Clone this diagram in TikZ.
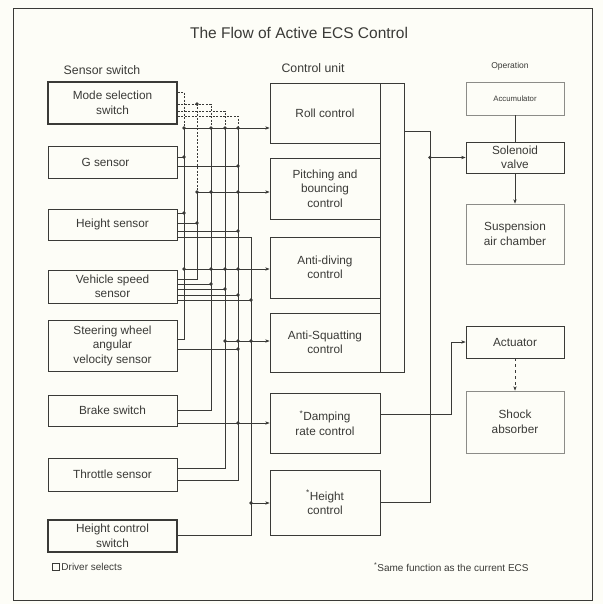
\documentclass[tikz,border=0pt]{standalone}
\usepackage{fontspec}
\setmainfont{Liberation Sans}
\usetikzlibrary{positioning, arrows.meta}
\definecolor{ecsink}{RGB}{58, 58, 55}
\definecolor{ecsfaint}{RGB}{140, 140, 136}
\definecolor{ecspaper}{RGB}{253, 253, 247}
\tikzset{
    ecsbox/.style={draw=ecsink, line width=0.7pt, align=center, text=ecsink, font=\fontsize{11.8}{14.5}\selectfont},
    sensornode/.style={ecsbox, minimum width=129pt},
    selnode/.style={sensornode, line width=1.5pt},
    ctrlnode/.style={ecsbox, minimum width=110pt},
    opnode/.style={ecsbox, minimum width=98pt},
    faintnode/.style={opnode, draw=ecsfaint},
    wire/.style={draw=ecsink, line width=0.65pt},
    selwire/.style={wire, dash pattern=on 2pt off 1.5pt},
    feed/.style={wire, -{Stealth[length=4.5pt, width=3.4pt]}},
    jdot/.style={circle, fill=ecsink, inner sep=0pt, minimum size=3.8pt}
}

\begin{document}
\begin{tikzpicture}[x=1pt, y=-1pt]
    \useasboundingbox (0,0) rectangle (603,604);
    \fill[ecspaper] (0,0) rectangle (603,604);
    \draw[ecsink, line width=0.9pt] (13,8) rectangle (592,600);

    % headings
    \node[text=ecsink, font=\fontsize{15.5}{18}\selectfont] (title) at (299,33) {The Flow of Active ECS Control};
    \node[text=ecsink, font=\fontsize{12.3}{14}\selectfont] (hsens) at (102,70) {Sensor switch};
    \node[text=ecsink, font=\fontsize{12.3}{14}\selectfont] (hctrl) at (313,68) {Control unit};
    \node[text=ecsink, font=\fontsize{8.5}{10}\selectfont] (hop) at (510,66) {Operation};

    % sensors and switches
    \node[selnode, minimum height=42pt] (ms) at (112.5,103) {Mode selection\\switch};
    \node[sensornode, minimum height=32pt] (gs) at (112.5,162) {G sensor\hspace*{14pt}};
    \node[sensornode, minimum height=31pt] (hs) at (112.5,224.5) {Height sensor};
    \node[sensornode, minimum height=33pt] (vs) at (112.5,286.5) {Vehicle speed\\sensor};
    \node[sensornode, minimum height=51pt] (sw) at (112.5,345.5) {Steering wheel\\angular\\velocity sensor};
    \node[sensornode, minimum height=31pt] (bs) at (112.5,410.5) {Brake switch};
    \node[sensornode, minimum height=33pt] (ts) at (112.5,474.5) {Throttle sensor};
    \node[selnode, minimum height=32pt] (hcs) at (112.5,536) {Height control\\switch};

    % control unit
    \node[ctrlnode, minimum height=60pt] (roll) at (325,113) {Roll control};
    \node[ctrlnode, minimum height=61pt] (pb) at (325,188.5) {Pitching and\\bouncing\\control};
    \node[ctrlnode, minimum height=61pt] (adv) at (325,267.5) {Anti-diving\\control};
    \node[ctrlnode, minimum height=59pt] (asq) at (325,342.5) {Anti-Squatting\\control};
    \node[ctrlnode, minimum height=60pt] (drc) at (325,423) {\textsuperscript{*}Damping\\rate control};
    \node[ctrlnode, minimum height=65pt] (hct) at (325,502.5) {\textsuperscript{*}Height\\control};
    \node[ecsbox, minimum width=24pt, minimum height=289pt] (cuframe) at (392,227.5) {};

    % operation
    \node[faintnode, minimum height=33pt, font=\fontsize{7.8}{9}\selectfont] (acc) at (515,98.5) {Accumulator};
    \node[opnode, minimum height=31pt] (sv) at (515,157.5) {Solenoid\\valve};
    \node[faintnode, minimum height=60pt] (sac) at (515,234) {Suspension\\air chamber};
    \node[opnode, minimum height=32pt] (act) at (515,342) {Actuator};
    \node[faintnode, minimum height=62pt] (sa) at (515,422) {Shock\\absorber};

    % bus lines
    \coordinate (b1) at (184,0);
    \coordinate (b2) at (197,0);
    \coordinate (b3) at (211,0);
    \coordinate (b4) at (225,0);
    \coordinate (b5) at (238,0);
    \coordinate (b6) at (251,0);
    \coordinate (trunk) at (430,0);
    \coordinate (dtap) at (451,0);

    % driver selected lines
    \draw[selwire] (ms.east |- 0,92) -| (b1 |- 0,128);
    \draw[selwire] (ms.east |- 0,104) -| (b3 |- 0,128);
    \draw[selwire] (b2 |- 0,104) node[jdot] {} -- (b2 |- 0,192);
    \draw[selwire] (ms.east |- 0,111) -| (b4 |- 0,128);
    \draw[selwire] (ms.east |- 0,116) -| (b5 |- 0,128);

    \draw[wire] (b1 |- 0,128) |- (sw.east |- 0,339);
    \draw[wire] (b2 |- 0,192) |- (vs.east |- 0,279);
    \draw[wire] (b3 |- 0,128) |- (bs.east |- 0,410);
    \draw[wire] (b4 |- 0,128) |- (ts.east |- 0,468);
    \draw[wire] (b5 |- 0,128) |- (ts.east |- 0,480);
    \draw[wire] (hs.east |- 0,237) -| (b6 |- 0,535) -- (hcs.east |- 0,535);

    % sensor taps
    \draw[wire] (gs.east |- 0,157) -- (b1 |- 0,157) node[jdot] {};
    \draw[wire] (gs.east |- 0,166) -- (b5 |- 0,166) node[jdot] {};
    \draw[wire] (hs.east |- 0,213) -- (b1 |- 0,213) node[jdot] {};
    \draw[wire] (hs.east |- 0,223) -- (b2 |- 0,223) node[jdot] {};
    \draw[wire] (hs.east |- 0,231) -- (b5 |- 0,231) node[jdot] {};
    \draw[wire] (vs.east |- 0,284) -- (b3 |- 0,284) node[jdot] {};
    \draw[wire] (vs.east |- 0,289) -- (b4 |- 0,289) node[jdot] {};
    \draw[wire] (vs.east |- 0,295) -- (b5 |- 0,295) node[jdot] {};
    \draw[wire] (vs.east |- 0,300) -- (b6 |- 0,300) node[jdot] {};
    \draw[wire] (sw.east |- 0,349) -- (b5 |- 0,349) node[jdot] {};

    % inputs of the control unit
    \draw[feed] (b1 |- 0,128) node[jdot] {} -- (roll.west |- 0,128);
    \draw[feed] (b2 |- 0,192) node[jdot] {} -- (pb.west |- 0,192);
    \draw[feed] (b1 |- 0,269) node[jdot] {} -- (adv.west |- 0,269);
    \draw[feed] (b4 |- 0,341) node[jdot] {} -- (asq.west |- 0,341);
    \draw[feed] (bs.east |- 0,423) -- (drc.west |- 0,423);
    \draw[feed] (b6 |- 0,503) node[jdot] {} -- (hct.west |- 0,503);
    \path[every node/.style=jdot]
        (b3 |- 0,128) node {} (b4 |- 0,128) node {} (b5 |- 0,128) node {}
        (b3 |- 0,192) node {} (b5 |- 0,192) node {}
        (b3 |- 0,269) node {} (b4 |- 0,269) node {} (b5 |- 0,269) node {}
        (b5 |- 0,341) node {} (b6 |- 0,341) node {}
        (b5 |- 0,423) node {};

    % outputs
    \draw[wire] (cuframe.east |- 0,131) -| (trunk |- 0,502) -- (hct.east |- 0,502);
    \draw[feed] (trunk |- sv.west) node[jdot] {} -- (sv.west);
    \draw[feed] (drc.east |- 0,414) -| (dtap |- act.west) -- (act.west);
    \draw[wire] (acc) -- (sv);
    \draw[feed] (sv) -- (sac);
    \draw[feed, dashed] (act) -- (sa);

    % notes
    \node[draw=ecsink, line width=1pt, minimum size=6.5pt, inner sep=0pt] (legbox) at (56,567) {};
    \node[right=1.5pt of legbox, inner sep=0pt, text=ecsink, font=\fontsize{10}{11}\selectfont] (legtext) {Driver selects};
    \node[anchor=west, inner sep=0pt, text=ecsink, font=\fontsize{10}{11}\selectfont] (note) at (374,567) {\textsuperscript{*}Same function as the current ECS};
\end{tikzpicture}
\end{document}
